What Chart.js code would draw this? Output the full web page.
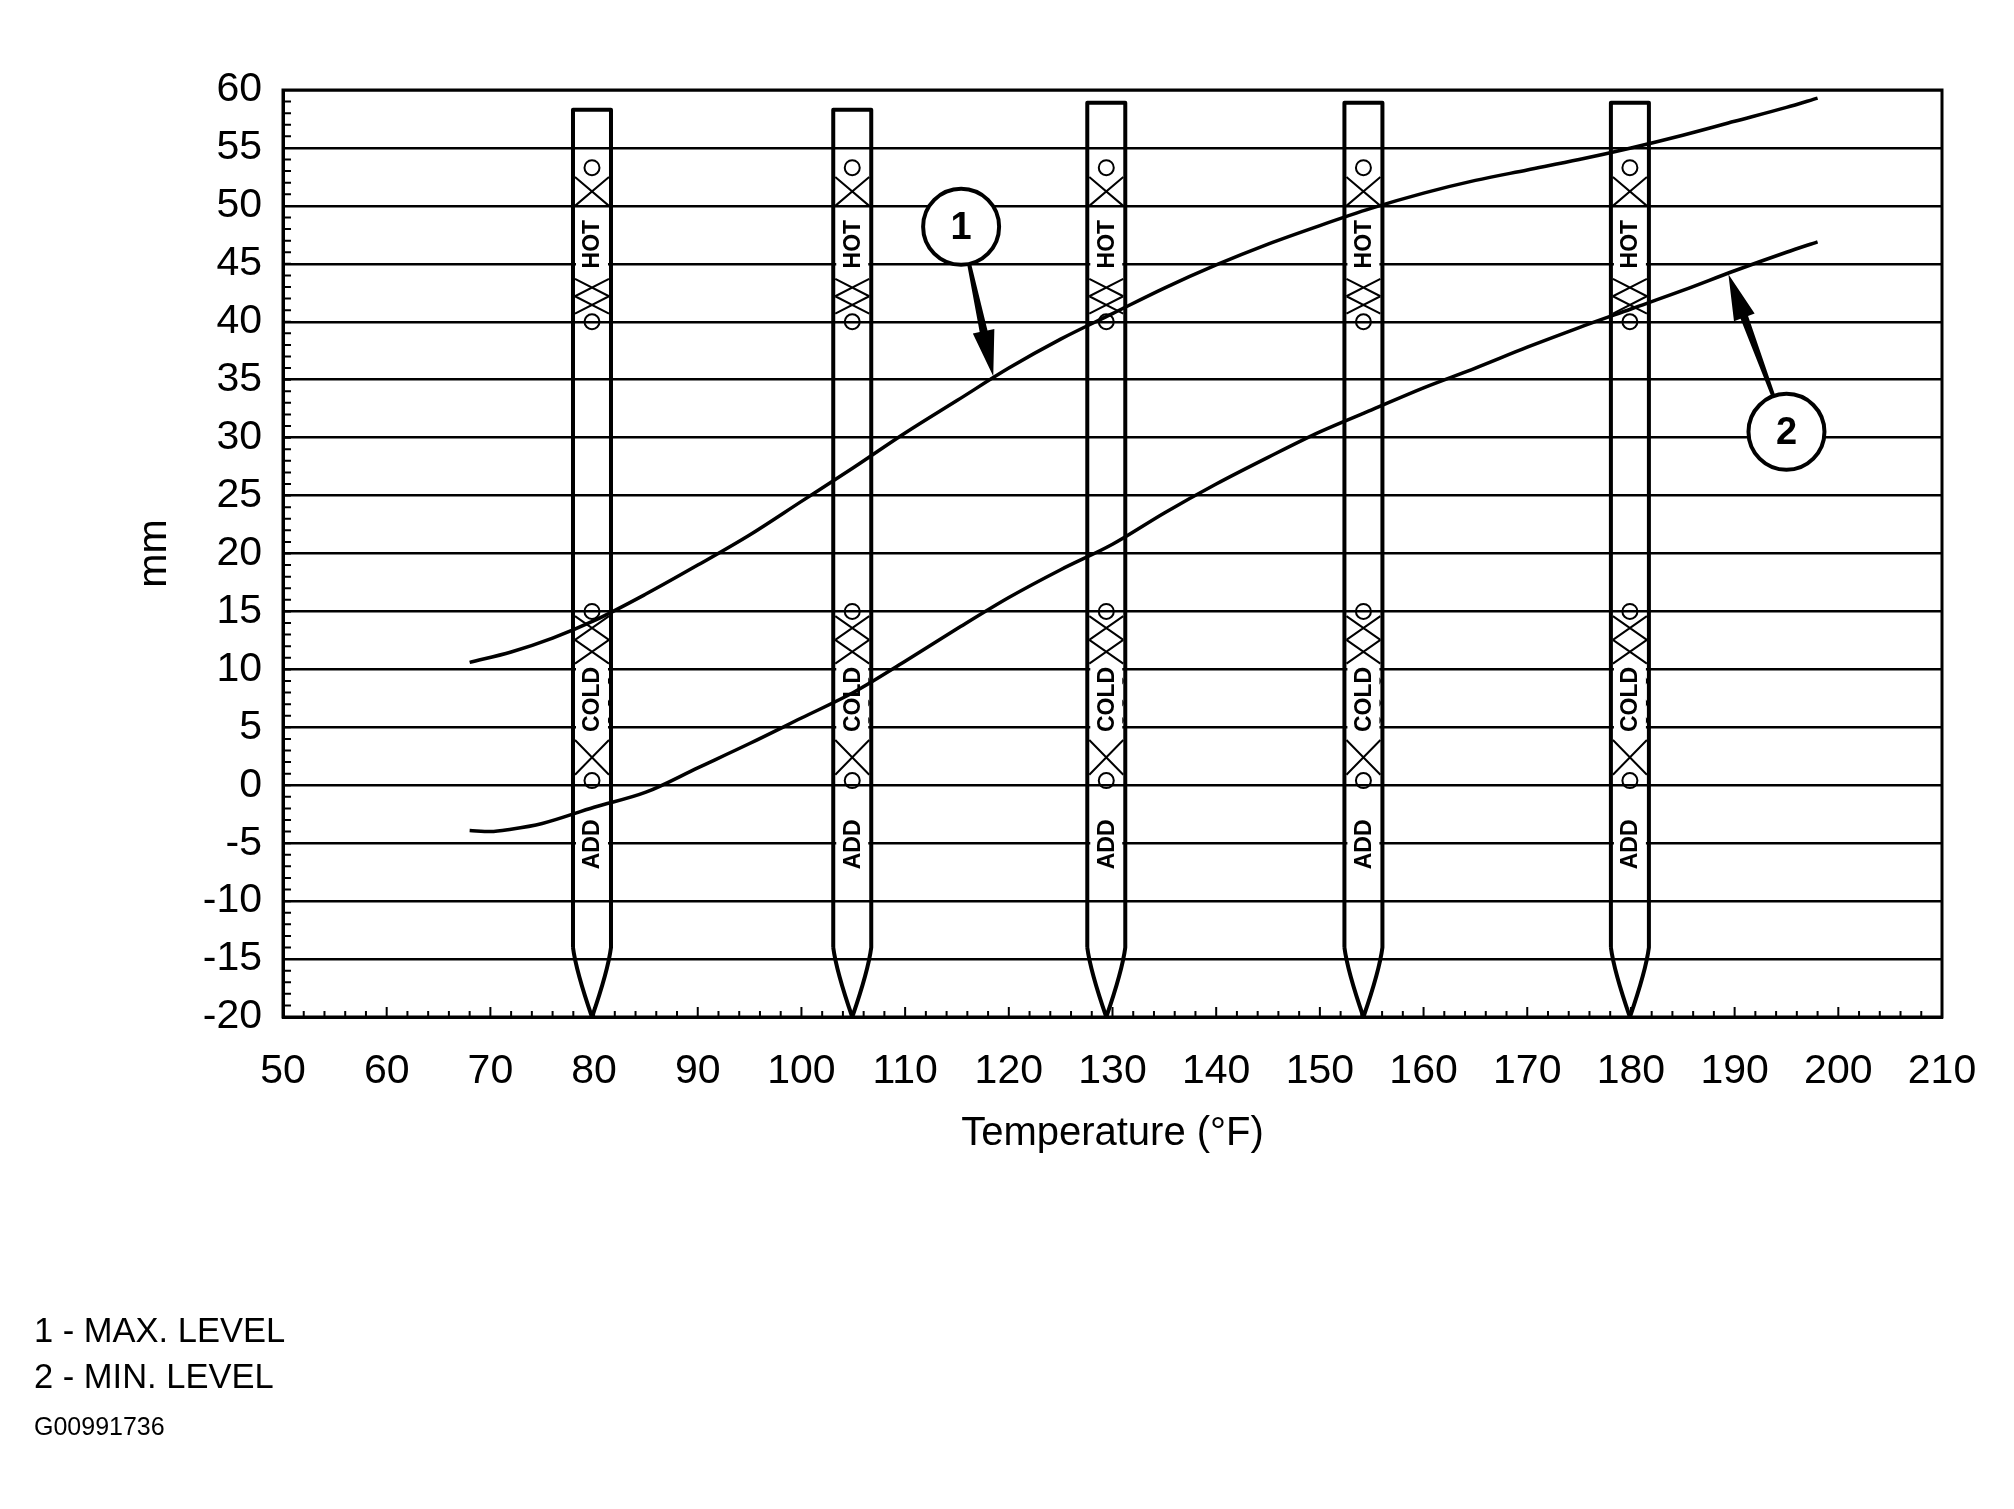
<!DOCTYPE html>
<html>
<head>
<meta charset="utf-8">
<script src="https://cdn.jsdelivr.net/npm/chart.js@4.4.1/dist/chart.umd.min.js"></script>
<style>
  html, body { margin: 0; padding: 0; background: #fff; }
  #wrap { position: relative; width: 2014px; height: 1509px; }
  #wrap canvas { position: absolute; left: 0; top: 0; }
  .note { position: absolute; left: 34px; font-family: "Liberation Sans", Arial, sans-serif; color: #000; line-height: 1; white-space: nowrap; }
</style>
</head>
<body>
<div id="wrap">
  <canvas id="chart" width="2014" height="1509"></canvas>
  <div class="note" style="top:1313px;font-size:34.5px">1 - MAX. LEVEL</div>
  <div class="note" style="top:1359px;font-size:34.5px">2 - MIN. LEVEL</div>
  <div class="note" style="top:1414px;font-size:25px">G00991736</div>
</div>
<script>
// curve 1 - max level (temperature °F -> mm)
const tempMax  = [68, 72, 76, 80, 85, 90, 95, 100, 105, 110, 115, 120, 125, 130, 135, 140, 145, 150, 155, 160, 165, 170, 175, 180, 185, 190, 195, 198];
const maxLevel = [10.6, 11.5, 12.7, 14.2, 16.5, 19.0, 21.6, 24.5, 27.4, 30.4, 33.2, 36.0, 38.5, 40.7, 42.9, 44.9, 46.7, 48.3, 49.8, 51.1, 52.2, 53.1, 54.0, 55.0, 56.1, 57.3, 58.5, 59.3];

// curve 2 - min level
const tempMin  = [68, 70, 72, 75, 80, 85, 90, 95, 100, 105, 110, 115, 120, 125, 130, 135, 140, 145, 150, 155, 160, 165, 170, 175, 180, 185, 190, 195, 198];
const minLevel = [-3.9, -4.0, -3.8, -3.3, -1.9, -0.6, 1.5, 3.6, 5.8, 8.0, 10.7, 13.5, 16.2, 18.6, 20.8, 23.5, 26.0, 28.3, 30.5, 32.4, 34.3, 36.0, 37.8, 39.5, 41.1, 42.7, 44.4, 46.0, 46.9];

// axes
const xRange = [50, 210];
const yRange = [-20, 60];

// dipsticks (°F position, mm marks)
const stickTemps   = [79.8, 104.9, 129.4, 154.2, 179.9];
const stickTops    = [58.3, 58.3, 58.9, 58.9, 58.9];
const stickRings   = [53.3, 40.0, 15.0, 0.4];
const stickHatches = [[52.5, 50.0, 1], [43.7, 40.7, 2], [14.6, 10.5, 2], [3.9, 0.9, 1]];
const stickWords   = ['HOT', 'COLD', 'ADD'];
const stickWordAt  = [46.7, 7.4, -5.1];
const coldDots     = [9.0, 7.1, 5.6];
const stickShoulder = -14;

// callouts
const calloutLabels = ['1', '2'];
const calloutAt     = [[115.4, 48.2], [195.0, 30.5]];
const calloutTip    = [[118.5, 35.3], [189.4, 44.1]];

const FONT = '"Liberation Sans", Arial, sans-serif';

function hatch(ctx, xl, xr, yTop, yBot, n) {
  const ch = (yBot - yTop) / n;
  ctx.beginPath();
  for (let i = 0; i < n; i++) {
    const a = yTop + i * ch, b = a + ch;
    ctx.moveTo(xl, a); ctx.lineTo(xr, b);
    ctx.moveTo(xr, a); ctx.lineTo(xl, b);
  }
  ctx.stroke();
}

const frame = {
  id: 'frame',
  beforeDatasetsDraw(chart) {
    const {ctx, chartArea: a, scales: {x, y}} = chart;
    ctx.save();
    ctx.strokeStyle = '#000';
    ctx.lineWidth = 3;
    ctx.strokeRect(a.left, a.top, a.right - a.left, a.bottom - a.top);
    // minor ticks
    ctx.lineWidth = 2;
    ctx.beginPath();
    for (let v = yRange[0]; v <= yRange[1]; v++) {
      const py = y.getPixelForValue(v);
      ctx.moveTo(a.left, py); ctx.lineTo(a.left + 8, py);
    }
    for (let v = xRange[0]; v <= xRange[1]; v += 2) {
      const px = x.getPixelForValue(v);
      ctx.moveTo(px, a.bottom); ctx.lineTo(px, a.bottom - (v % 10 === 0 ? 10 : 6));
    }
    ctx.stroke();
    ctx.restore();
  }
};

const sticks = {
  id: 'sticks',
  beforeDatasetsDraw(chart) {
    const {ctx, scales: {x, y}} = chart;
    const half = 19;
    ctx.save();
    ctx.strokeStyle = '#000';
    ctx.fillStyle = '#000';
    stickTemps.forEach((t, i) => {
      const px = x.getPixelForValue(t);
      const xl = px - half, xr = px + half;
      // outline
      ctx.lineWidth = 4;
      ctx.lineJoin = 'round';
      ctx.beginPath();
      ctx.moveTo(xl, y.getPixelForValue(stickShoulder));
      ctx.lineTo(xl, y.getPixelForValue(stickTops[i]));
      ctx.lineTo(xr, y.getPixelForValue(stickTops[i]));
      ctx.lineTo(xr, y.getPixelForValue(stickShoulder));
      ctx.quadraticCurveTo(xr - 3, y.getPixelForValue(stickShoulder - 2), px, y.getPixelForValue(yRange[0]));
      ctx.quadraticCurveTo(xl + 3, y.getPixelForValue(stickShoulder - 2), xl, y.getPixelForValue(stickShoulder));
      ctx.stroke();
      // hatching
      ctx.lineWidth = 2;
      stickHatches.forEach(h => hatch(ctx, xl + 2, xr - 2, y.getPixelForValue(h[0]), y.getPixelForValue(h[1]), h[2]));
      // rings
      stickRings.forEach(v => {
        ctx.beginPath();
        ctx.arc(px, y.getPixelForValue(v), 7.5, 0, Math.PI * 2);
        ctx.stroke();
      });
      coldDots.forEach(v => {
        ctx.beginPath();
        ctx.arc(xr - 6, y.getPixelForValue(v), 3.5, 0, Math.PI * 2);
        ctx.stroke();
      });
      // words
      ctx.font = 'bold 23px ' + FONT;
      stickWords.forEach((w, k) => {
        const py = y.getPixelForValue(stickWordAt[k]);
        const tw = ctx.measureText(w).width;
        ctx.fillStyle = '#fff';
        ctx.fillRect(xl + 3, py - tw / 2 - 2, xr - xl - 6, tw + 4);
        ctx.fillStyle = '#000';
        ctx.save();
        ctx.translate(px, py);
        ctx.rotate(-Math.PI / 2);
        ctx.textAlign = 'center';
        ctx.textBaseline = 'middle';
        ctx.fillText(w, 0, 1);
        ctx.restore();
      });
    });
    ctx.restore();
  }
};

const callouts = {
  id: 'callouts',
  afterDatasetsDraw(chart) {
    const {ctx, scales: {x, y}} = chart;
    const r = 38, headLen = 46, headW = 22;
    ctx.save();
    calloutLabels.forEach((lab, i) => {
      const cx = x.getPixelForValue(calloutAt[i][0]), cy = y.getPixelForValue(calloutAt[i][1]);
      const tx = x.getPixelForValue(calloutTip[i][0]), ty = y.getPixelForValue(calloutTip[i][1]);
      const len = Math.hypot(tx - cx, ty - cy);
      const dx = (tx - cx) / len, dy = (ty - cy) / len;
      const nx = -dy, ny = dx;
      const sx = cx + dx * r, sy = cy + dy * r;
      const bx = tx - dx * headLen, by = ty - dy * headLen;
      ctx.fillStyle = '#000';
      ctx.beginPath();
      ctx.moveTo(sx + nx * 2, sy + ny * 2);
      ctx.lineTo(bx + nx * 4, by + ny * 4);
      ctx.lineTo(bx + nx * headW / 2, by + ny * headW / 2);
      ctx.lineTo(tx, ty);
      ctx.lineTo(bx - nx * headW / 2, by - ny * headW / 2);
      ctx.lineTo(bx - nx * 4, by - ny * 4);
      ctx.lineTo(sx - nx * 2, sy - ny * 2);
      ctx.closePath();
      ctx.fill();
      ctx.beginPath();
      ctx.arc(cx, cy, r, 0, Math.PI * 2);
      ctx.fillStyle = '#fff';
      ctx.fill();
      ctx.lineWidth = 4;
      ctx.strokeStyle = '#000';
      ctx.stroke();
      ctx.fillStyle = '#000';
      ctx.font = 'bold 38px ' + FONT;
      ctx.textAlign = 'center';
      ctx.textBaseline = 'middle';
      ctx.fillText(lab, cx, cy + 2);
    });
    ctx.restore();
  }
};

new Chart(document.getElementById('chart'), {
  type: 'line',
  data: {
    datasets: [
      { label: 'MAX. LEVEL', data: tempMax.map((t, i) => ({x: t, y: maxLevel[i]})) },
      { label: 'MIN. LEVEL', data: tempMin.map((t, i) => ({x: t, y: minLevel[i]})) }
    ]
  },
  options: {
    responsive: false,
    devicePixelRatio: 1,
    animation: false,
    events: [],
    layout: { padding: { left: 0, top: 90, right: 72, bottom: 351 } },
    elements: {
      line: { borderColor: '#000', borderWidth: 3.5, cubicInterpolationMode: 'monotone', fill: false },
      point: { radius: 0 }
    },
    plugins: { legend: { display: false }, tooltip: { enabled: false } },
    scales: {
      x: {
        type: 'linear', min: xRange[0], max: xRange[1],
        grid: { display: false, drawTicks: false },
        border: { display: true, color: '#000', width: 3 },
        ticks: { stepSize: 10, autoSkip: false, maxRotation: 0, padding: 30, color: '#000', font: { family: FONT, size: 41 } },
        title: { display: true, text: 'Temperature (°F)', color: '#000', padding: 0, font: { family: FONT, size: 40 } },
        afterFit(s) { s.height = 141; }
      },
      y: {
        min: yRange[0], max: yRange[1],
        grid: { color: '#000', lineWidth: 2.5, drawTicks: false },
        border: { display: true, color: '#000', width: 3 },
        ticks: { stepSize: 5, padding: 21, color: '#000', font: { family: FONT, size: 41 } },
        title: { display: true, text: 'mm', color: '#000', padding: { top: 130, bottom: 0 }, font: { family: FONT, size: 41 } },
        afterFit(s) { s.width = 283; }
      }
    }
  },
  plugins: [frame, sticks, callouts]
});
</script>
</body>
</html>
